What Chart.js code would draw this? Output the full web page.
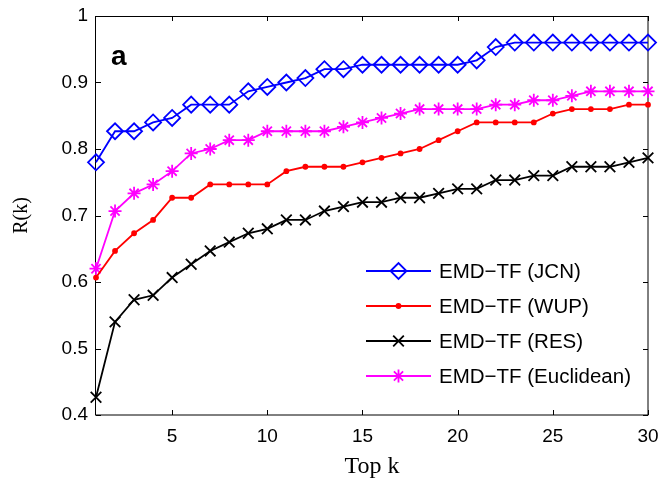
<!DOCTYPE html>
<html>
<head>
<meta charset="utf-8">
<script src="https://cdn.jsdelivr.net/npm/chart.js@4"></script>
<style>
  html, body { margin: 0; padding: 0; background: #fff; }
  canvas { display: block; }
</style>
</head>
<body>
<canvas id="chart" width="662" height="481"></canvas>
<script>
// values (recall R(k) per top-k)
const topK = [1, 2, 3, 4, 5, 6, 7, 8, 9, 10, 11, 12, 13, 14, 15, 16, 17, 18, 19, 20, 21, 22, 23, 24, 25, 26, 27, 28, 29, 30];

const jcn = [0.78, 0.8267, 0.8267, 0.84, 0.8467, 0.8667, 0.8667, 0.8667, 0.8867, 0.8933,
  0.9, 0.9067, 0.92, 0.92, 0.9267, 0.9267, 0.9267, 0.9267, 0.9267, 0.9267,
  0.9333, 0.9533, 0.96, 0.96, 0.96, 0.96, 0.96, 0.96, 0.96, 0.96];

const wup = [0.6067, 0.6467, 0.6733, 0.6933, 0.7267, 0.7267, 0.7467, 0.7467, 0.7467, 0.7467,
  0.7667, 0.7733, 0.7733, 0.7733, 0.78, 0.7867, 0.7933, 0.80, 0.8133, 0.8267,
  0.84, 0.84, 0.84, 0.84, 0.8533, 0.86, 0.86, 0.86, 0.8667, 0.8667];

const res = [0.4267, 0.54, 0.5733, 0.58, 0.6067, 0.6267, 0.6467, 0.66, 0.6733, 0.68,
  0.6933, 0.6933, 0.7067, 0.7133, 0.72, 0.72, 0.7267, 0.7267, 0.7333, 0.74,
  0.74, 0.7533, 0.7533, 0.76, 0.76, 0.7733, 0.7733, 0.7733, 0.78, 0.7867];

const euclid = [0.62, 0.7067, 0.7333, 0.7467, 0.7667, 0.7933, 0.80, 0.8133, 0.8133, 0.8267,
  0.8267, 0.8267, 0.8267, 0.8333, 0.84, 0.8467, 0.8533, 0.86, 0.86, 0.86,
  0.86, 0.8667, 0.8667, 0.8733, 0.8733, 0.88, 0.8867, 0.8867, 0.8867, 0.8867];

const seriesNames = ['EMD\u2212TF (JCN)', 'EMD\u2212TF (WUP)', 'EMD\u2212TF (RES)', 'EMD\u2212TF (Euclidean)'];
const xTicks = [5, 10, 15, 20, 25, 30];
const yTicks = [0.4, 0.5, 0.6, 0.7, 0.8, 0.9, 1];

const sansFont = '"Liberation Sans", Arial, Helvetica, sans-serif';
const serifFont = '"Liberation Serif", "Times New Roman", serif';

const styles = [
  { color: '#0000ff', pointStyle: 'rectRot', radius: 8, fill: false },
  { color: '#ff0000', pointStyle: 'circle', radius: 2, fill: true },
  { color: '#000000', pointStyle: 'crossRot', radius: 7.5, fill: false },
  { color: '#ff00ff', pointStyle: 'star', radius: 6.5, fill: false }
];

function toPoints(vals) {
  return topK.map((k, i) => ({ x: k, y: vals[i] }));
}

const datasets = [jcn, wup, res, euclid].map((vals, i) => ({
  label: seriesNames[i],
  data: toPoints(vals),
  borderColor: styles[i].color,
  backgroundColor: styles[i].fill ? styles[i].color : 'rgba(0,0,0,0)',
  pointBorderColor: styles[i].color,
  pointBackgroundColor: styles[i].fill ? styles[i].color : 'rgba(0,0,0,0)',
  pointStyle: styles[i].pointStyle,
  pointRadius: styles[i].radius,
  pointBorderWidth: 1.8,
  borderWidth: 1.8,
  tension: 0,
  clip: false
}));

// keep the plot box exactly where the layout padding puts it
function fixSize(prop, size) {
  return s => {
    s[prop] = size;
    s.paddingLeft = s.paddingRight = s.paddingTop = s.paddingBottom = 0;
  };
}

// frame, inward ticks, panel letter and legend
const decorations = {
  id: 'decorations',
  beforeDatasetsDraw(chart) {
    const ctx = chart.ctx;
    const a = chart.chartArea;
    const xs = chart.scales.x, ys = chart.scales.y;
    ctx.save();
    ctx.strokeStyle = '#000';
    ctx.lineWidth = 1;
    ctx.strokeRect(Math.round(a.left) - 0.5, Math.round(a.top) + 0.5,
      Math.round(a.right - a.left) + 0.5, Math.round(a.bottom - a.top) - 0.5);
    ctx.beginPath();
    xTicks.forEach(v => {
      const px = Math.round(xs.getPixelForValue(v)) + 0.5;
      ctx.moveTo(px, a.bottom); ctx.lineTo(px, a.bottom - 5);
      ctx.moveTo(px, a.top); ctx.lineTo(px, a.top + 5);
    });
    yTicks.forEach(v => {
      const py = Math.round(ys.getPixelForValue(v)) + 0.5;
      ctx.moveTo(a.left, py); ctx.lineTo(a.left + 5, py);
      ctx.moveTo(a.right, py); ctx.lineTo(a.right - 5, py);
    });
    ctx.stroke();
    ctx.restore();
  },
  afterDraw(chart) {
    const ctx = chart.ctx;
    ctx.save();
    ctx.fillStyle = '#000';
    ctx.font = 'bold 28px ' + sansFont;
    ctx.textBaseline = 'alphabetic';
    ctx.textAlign = 'left';
    ctx.fillText('a', 111, 65);

    // legend
    const rows = [271, 306, 341, 376];
    const x0 = 366, x1 = 431, xm = (x0 + x1) / 2;
    ctx.font = '20.5px ' + sansFont;
    ctx.textBaseline = 'middle';
    rows.forEach((y, i) => {
      const st = styles[i];
      ctx.strokeStyle = st.color;
      ctx.lineWidth = 1.8;
      ctx.beginPath();
      ctx.moveTo(x0, y); ctx.lineTo(x1, y);
      ctx.stroke();
      ctx.fillStyle = st.fill ? st.color : 'rgba(0,0,0,0)';
      Chart.helpers.drawPoint(ctx, {
        pointStyle: st.pointStyle, radius: st.radius, borderWidth: 1.8, rotation: 0
      }, xm, y);
      ctx.fillStyle = '#000';
      ctx.fillText(seriesNames[i], 439, y + 1);
    });
    ctx.restore();
  }
};

new Chart(document.getElementById('chart'), {
  type: 'line',
  data: { datasets: datasets },
  options: {
    responsive: false,
    animation: false,
    devicePixelRatio: 1,
    layout: { padding: { top: 16, right: 14, left: 0, bottom: 0 } },
    plugins: {
      legend: { display: false },
      tooltip: { enabled: false }
    },
    scales: {
      x: {
        type: 'linear',
        min: 1,
        max: 30,
        afterBuildTicks: s => { s.ticks = xTicks.map(v => ({ value: v })); },
        afterFit: fixSize('height', 66),
        grid: { display: false, drawTicks: false },
        border: { display: false },
        ticks: {
          color: '#000',
          padding: 10,
          maxRotation: 0,
          font: { family: sansFont, size: 19 }
        },
        title: {
          display: true,
          text: 'Top k',
          color: '#000',
          font: { family: serifFont, size: 24 },
          padding: { top: 0, bottom: 0 }
        }
      },
      y: {
        min: 0.4,
        max: 1,
        afterBuildTicks: s => { s.ticks = yTicks.map(v => ({ value: v })); },
        afterFit: fixSize('width', 96),
        grid: { display: false, drawTicks: false },
        border: { display: false },
        ticks: {
          color: '#000',
          padding: 8,
          font: { family: sansFont, size: 19 },
          callback: v => (v === 1 ? '1' : v.toFixed(1))
        },
        title: {
          display: true,
          text: 'R(k)',
          color: '#000',
          font: { family: serifFont, size: 20 },
          padding: { top: 10, bottom: 0 }
        }
      }
    }
  },
  plugins: [decorations]
});
</script>
</body>
</html>
